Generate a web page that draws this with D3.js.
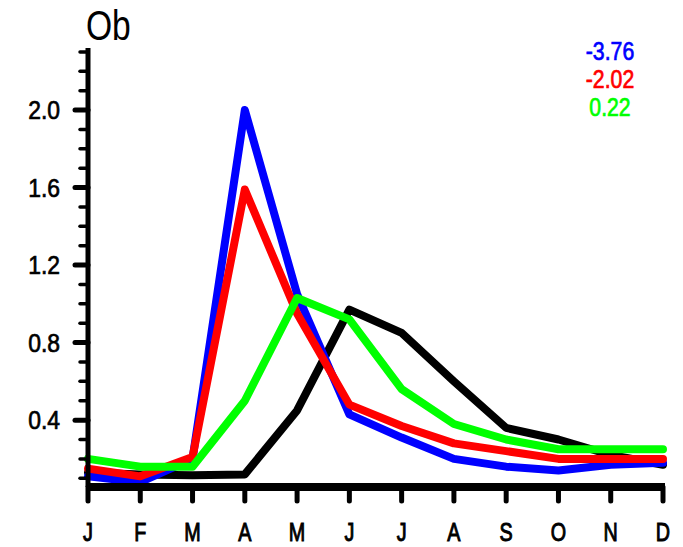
<!DOCTYPE html>
<html><head><meta charset="utf-8">
<script src="https://cdn.jsdelivr.net/npm/d3@7"></script>
<style>body{margin:0;background:#fff}svg{display:block}text{font-family:"Liberation Sans",Arial,sans-serif}</style>
</head><body>
<svg id="c" width="683" height="547"></svg>
<script>
const months = ["J","F","M","A","M","J","J","A","S","O","N","D"];
const black = [0.13,0.12,0.115,0.12,0.45,0.97,0.85,0.60,0.36,0.30,0.22,0.17];
const blue  = [0.11,0.08,0.20,2.00,1.05,0.43,0.31,0.20,0.16,0.14,0.17,0.18];
const red   = [0.15,0.11,0.21,1.59,0.95,0.48,0.37,0.28,0.24,0.20,0.20,0.20];
const green = [0.20,0.16,0.16,0.50,1.03,0.92,0.56,0.38,0.30,0.25,0.25,0.25];
const legendLabels = ["-3.76","-2.02","0.22"];
const yMajor = [0.4,0.8,1.2,1.6,2.0];
const yMinor = d3.range(1,24).map(i=>i/10);
const title = "Ob";

const svg = d3.select("#c");
const idx = d3.range(months.length);
const x = d3.scalePoint().domain(idx).range([88,663]);
const y = d3.scaleLinear().domain([0.055,2.32]).range([487,48]);

// lines
const line = d3.line().x((d,i)=>x(i)).y(d=>y(d));
const series = [[black,"#000"],[blue,"#0000ff"],[red,"#ff0000"],[green,"#00ff00"]];
series.forEach(([vals,col])=>{
  svg.append("path").datum(vals).attr("d",line).attr("fill","none")
    .attr("stroke",col).attr("stroke-width",8)
    .attr("stroke-linejoin","round").attr("stroke-linecap","round");
});

// y axis
svg.append("line").attr("x1",x(0)).attr("x2",x(0)).attr("y1",y(2.32)).attr("y2",y(0.055))
  .attr("stroke","#000").attr("stroke-width",5);
svg.selectAll(".ymin").data(yMinor).enter().append("line")
  .attr("x1",80).attr("x2",x(0)).attr("y1",d=>y(d)).attr("y2",d=>y(d))
  .attr("stroke","#000").attr("stroke-width",3.5).attr("stroke-linecap","round");
svg.selectAll(".ymaj").data(yMajor).enter().append("line")
  .attr("x1",75).attr("x2",x(0)).attr("y1",d=>y(d)).attr("y2",d=>y(d))
  .attr("stroke","#000").attr("stroke-width",5).attr("stroke-linecap","round");
svg.selectAll(".ylab").data(yMajor).enter().append("text")
  .attr("text-anchor","end")
  .attr("transform",d=>`translate(60,${y(d)+9}) scale(0.88,1)`)
  .attr("font-size",26).attr("stroke","#000").attr("stroke-width",0.7)
  .text(d=>d.toFixed(1));

// x axis
svg.append("line").attr("x1",x(0)-2).attr("x2",x(11)+2).attr("y1",y(0.055)).attr("y2",y(0.055))
  .attr("stroke","#000").attr("stroke-width",8);
svg.selectAll(".xt").data(idx).enter().append("line")
  .attr("x1",d=>x(d)).attr("x2",d=>x(d)).attr("y1",y(0.055)).attr("y2",501)
  .attr("stroke","#000").attr("stroke-width",5).attr("stroke-linecap","round");
svg.selectAll(".xlab").data(idx).enter().append("text")
  .attr("text-anchor","middle")
  .attr("transform",d=>`translate(${x(d)},541) scale(0.76,1)`)
  .attr("font-size",26).attr("stroke","#000").attr("stroke-width",1)
  .text(d=>months[d]);

// title
svg.append("text").attr("transform","translate(86,40) scale(0.8,1)")
  .attr("font-size",42).text(title);

// legend
const legCols = ["#0000ff","#ff0000","#00ff00"];
legendLabels.forEach((t,i)=>{
  svg.append("text").attr("text-anchor","middle")
    .attr("transform",`translate(610,${60+i*28}) scale(0.85,1)`)
    .attr("font-size",25).attr("fill",legCols[i])
    .attr("stroke",legCols[i]).attr("stroke-width",0.7).text(t);
});
</script>
</body></html>
